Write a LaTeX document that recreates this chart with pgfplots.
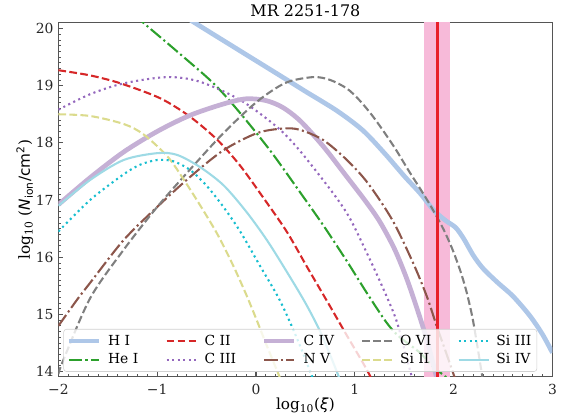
\documentclass[border=0pt]{standalone}
\usepackage{fontspec}
\setmainfont{DejaVu Serif}
\setsansfont{DejaVu Sans}
\usepackage{pgfplots}
\pgfplotsset{compat=1.18}

\definecolor{cHI}{HTML}{AEC7E8}
\definecolor{cHeI}{HTML}{2CA02C}
\definecolor{cCII}{HTML}{D62728}
\definecolor{cCIII}{HTML}{9467BD}
\definecolor{cCIV}{HTML}{C5B0D5}
\definecolor{cNV}{HTML}{8C564B}
\definecolor{cOVI}{HTML}{7F7F7F}
\definecolor{cSiII}{HTML}{DBDB8D}
\definecolor{cSiIII}{HTML}{17BECF}
\definecolor{cSiIV}{HTML}{9EDAE5}
\definecolor{band}{HTML}{F7BAD9}
\definecolor{xiline}{HTML}{E8202A}
\definecolor{spine}{HTML}{555555}

\pgfplotsset{
  thickline/.style={line width=3.4pt},
  thinline/.style={line width=1.5pt},
  mdashed/.style={thinline, dash pattern=on 5.55pt off 2.4pt},
  mdashdot/.style={thinline, dash pattern=on 9.6pt off 2.4pt on 1.5pt off 2.4pt},
  mdotted/.style={thinline, dash pattern=on 1.5pt off 2.5pt},
  sHI/.style={cHI, thickline},
  sHeI/.style={cHeI, mdashdot},
  sCII/.style={cCII, mdashed},
  sCIII/.style={cCIII, mdotted},
  sCIV/.style={cCIV, thickline},
  sNV/.style={cNV, mdashdot},
  sOVI/.style={cOVI, mdashed},
  sSiII/.style={cSiII, mdashed},
  sSiIII/.style={cSiIII, mdotted},
  sSiIV/.style={cSiIV, thinline},
}

% legend text cell: a small gap after the line sample, then a fixed-width box
\newcommand{\entry}[1]{\hspace*{3pt}\makebox[36.4pt][l]{#1}}
\newcommand{\lastentry}[1]{\hspace*{3pt}#1}

\begin{document}
\begin{tikzpicture}
\begin{axis}[
  scale only axis,
  width=356pt, height=255.3pt,
  xmin=-2, xmax=3, ymin=13.91, ymax=20.105,
  xtick={-2,-1,0,1,2,3},
  xticklabels={−2,−1,0,1,2,3},
  ytick={14,15,16,17,18,19,20},
  yticklabels={14,15,16,17,18,19,20},
  minor x tick num=9, minor y tick num=9,
  tick pos=left, tick align=inside,
  major tick length=3.6pt, minor tick length=2pt,
  axis line style={spine, line width=0.8pt},
  major tick style={spine, line width=0.8pt},
  minor tick style={spine, line width=0.6pt},
  ticklabel style={font=\fontsize{10}{12}\selectfont, text=black!85},
  xticklabel style={yshift=-2pt},
  title={MR 2251-178},
  every axis title/.style={at={(0.5,1)}, anchor=base, yshift=4.5pt, inner sep=0pt,
    font=\fontsize{11.5}{13}\selectfont},
  xlabel={log\textsubscript{10}(\textsf{\textit{ξ}})},
  ylabel={log\textsubscript{10} (\textsf{\textit{N}\textsubscript{ion}/cm\textsuperscript{2}})},
  label style={font=\fontsize{11}{13}\selectfont},
  xlabel style={yshift=4.5pt},
  ylabel style={yshift=-5pt},
  legend columns=5,
  legend cell align=left,
  legend image code/.code={\draw[#1] (0pt,0pt) -- (21.6pt,0pt);},
  legend style={
    at={(0.0101,0.014)}, anchor=south west,
    draw=black!18, rounded corners=2pt, fill=white, fill opacity=0.8, text opacity=1,
    font=\fontsize{10}{12}\selectfont,
    inner xsep=2pt, inner ysep=2pt, row sep=0.6pt,
    /tikz/every even column/.append style={column sep=3pt},
  },
]

% ionisation parameter constraint
\addplot[draw=none, fill=band, forget plot] coordinates {(1.705,13.8) (1.705,20.2) (1.965,20.2) (1.965,13.8)} -- cycle;

% model column densities
\addplot[sHI, smooth, forget plot] coordinates {(-1.0,20.52) (-0.62,20.1) (-0.2,19.65) (0.24,19.18) (0.5,18.9) (0.82,18.56) (1.08,18.22) (1.3,17.82) (1.5,17.42) (1.66,17.12) (1.8,16.82) (1.92,16.64) (2.02,16.52) (2.1,16.33) (2.2,16.03) (2.3,15.8) (2.45,15.55) (2.6,15.32) (2.77,14.98) (2.9,14.65) (3.0,14.33)};
\addplot[sHeI, smooth, forget plot] coordinates {(-1.4,20.5) (-1.14,20.1) (-0.8,19.6) (-0.43,19.04) (-0.16,18.52) (0.15,17.85) (0.44,17.15) (0.68,16.56) (0.92,15.93) (1.12,15.38) (1.32,14.86) (1.45,14.61) (1.66,14.33) (1.79,14.09) (1.89,13.95) (2.0,13.8)};
\addplot[sCII, smooth, forget plot] coordinates {(-2,19.27) (-1.68,19.18) (-1.37,19.04) (-0.97,18.78) (-0.67,18.46) (-0.39,18.05) (-0.16,17.6) (0.07,17.05) (0.31,16.45) (0.52,15.82) (0.75,15.14) (0.92,14.63) (1.08,14.16) (1.15,13.94) (1.2,13.78)};
\addplot[sCIII, smooth, forget plot] coordinates {(-2,18.58) (-1.68,18.85) (-1.34,19.04) (-0.9,19.15) (-0.57,19.07) (-0.16,18.75) (0.21,18.28) (0.44,17.87) (0.78,17.12) (0.95,16.68) (1.12,16.08) (1.28,15.48) (1.42,14.9) (1.52,14.27) (1.57,13.95) (1.6,13.75)};
\addplot[sCIV, smooth, forget plot] coordinates {(-2,16.92) (-1.68,17.39) (-1.34,17.84) (-1.0,18.2) (-0.67,18.48) (-0.33,18.68) (-0.1,18.77) (0.1,18.74) (0.27,18.62) (0.45,18.38) (0.68,17.94) (0.9,17.45) (1.1,17.0) (1.25,16.63) (1.4,16.15) (1.52,15.65) (1.63,15.1) (1.73,14.55) (1.82,13.95) (1.85,13.75)};
\addplot[sNV, smooth, forget plot] coordinates {(-2,14.8) (-1.81,15.26) (-1.68,15.55) (-1.34,16.3) (-1.0,16.88) (-0.67,17.4) (-0.33,17.87) (0.01,18.17) (0.27,18.25) (0.44,18.23) (0.68,18.05) (0.92,17.7) (1.13,17.3) (1.38,16.65) (1.59,15.9) (1.73,15.31) (1.83,14.79) (1.93,14.3) (2.02,13.85)};
\addplot[sOVI, smooth, forget plot] coordinates {(-2,13.95) (-1.96,14.16) (-1.68,15.28) (-1.34,16.13) (-1.0,16.88) (-0.67,17.53) (-0.33,18.17) (0.01,18.72) (0.3,19.05) (0.58,19.15) (0.75,19.1) (0.92,18.95) (1.05,18.74) (1.18,18.47) (1.3,18.18) (1.42,17.87) (1.55,17.5) (1.69,17.12) (1.8,16.8) (1.9,16.48) (1.99,16.13) (2.07,15.75) (2.13,15.4) (2.19,14.95) (2.24,14.45) (2.29,13.92) (2.31,13.75)};
\addplot[sSiII, smooth, forget plot] coordinates {(-2,18.5) (-1.68,18.47) (-1.34,18.33) (-1.14,18.15) (-0.9,17.77) (-0.74,17.38) (-0.57,16.92) (-0.39,16.4) (-0.23,15.85) (-0.1,15.35) (0.0,14.93) (0.11,14.45) (0.24,13.9) (0.27,13.75)};
\addplot[sSiIII, smooth, forget plot] coordinates {(-2,16.45) (-1.68,17.0) (-1.34,17.45) (-1.17,17.62) (-1.0,17.7) (-0.84,17.68) (-0.67,17.53) (-0.5,17.25) (-0.33,16.88) (-0.16,16.45) (0.04,15.85) (0.24,15.25) (0.41,14.6) (0.56,13.95) (0.6,13.75)};
\addplot[sSiIV, smooth, forget plot] coordinates {(-2,16.9) (-1.68,17.35) (-1.34,17.7) (-1.0,17.82) (-0.8,17.79) (-0.57,17.58) (-0.33,17.26) (-0.1,16.8) (0.11,16.3) (0.31,15.75) (0.5,15.2) (0.65,14.7) (0.76,14.25) (0.84,13.9) (0.87,13.75)};

% best-fit ionisation parameter
\addplot[xiline, line width=2pt, forget plot] coordinates {(1.835,13.8) (1.835,20.2)};

% legend, filled row by row
\addlegendimage{sHI}\addlegendentry{\entry{H I}}
\addlegendimage{sCII}\addlegendentry{\entry{C II}}
\addlegendimage{sCIV}\addlegendentry{\entry{C IV}}
\addlegendimage{sOVI}\addlegendentry{\entry{O VI}}
\addlegendimage{sSiIII}\addlegendentry{\lastentry{Si III}}
\addlegendimage{sHeI}\addlegendentry{\entry{He I}}
\addlegendimage{sCIII}\addlegendentry{\entry{C III}}
\addlegendimage{sNV}\addlegendentry{\entry{N V}}
\addlegendimage{sSiII}\addlegendentry{\entry{Si II}}
\addlegendimage{sSiIV}\addlegendentry{\lastentry{Si IV}}
\end{axis}
\pgfresetboundingbox
\path[use as bounding box] (-42.1pt,-29.5pt) rectangle (362.9pt,271.5pt);
\end{tikzpicture}
\end{document}
